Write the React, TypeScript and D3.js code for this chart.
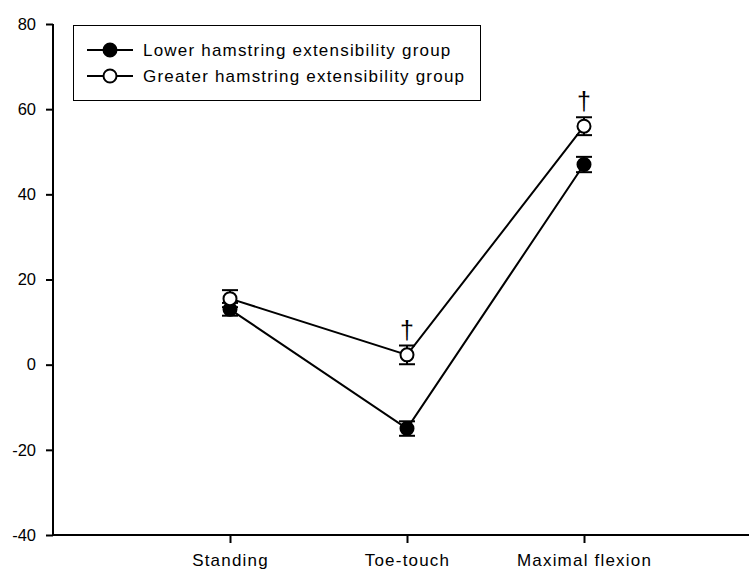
import { useEffect, useRef } from "react";
import * as d3 from "d3";

const phases = ["Standing", "Toe-touch", "Maximal flexion"];
const lowerMeans = [13, -15, 47];
const lowerErr = [1.5, 1.7, 1.8];
const greaterMeans = [15.5, 2.3, 56];
const greaterErr = [2, 2.2, 2.1];
const daggers = [false, true, true];
const yTicks = [-40, -20, 0, 20, 40, 60, 80];
const legendLabels = [
  "Lower hamstring extensibility group",
  "Greater hamstring extensibility group",
];

export default function App() {
  const svgRef = useRef<SVGSVGElement>(null);

  useEffect(() => {
    if (!svgRef.current) return;
    const width = 749;
    const height = 572;
    const font = "Liberation Sans, Arial, sans-serif";

    const svg = d3.select(svgRef.current);
    svg.selectAll("*").remove();

    const x = d3.scaleLinear().domain([0, 4]).range([53, 761]);
    const y = d3.scaleLinear().domain([-40, 80]).range([535, 24]);

    // Axes
    const yAxis = d3
      .axisLeft(y)
      .tickValues(yTicks)
      .tickSize(7)
      .tickPadding(10)
      .tickFormat((d) => `${d}`);
    const gy = svg.append("g").attr("transform", `translate(${x(0)},0)`).call(yAxis);
    gy.select(".domain").attr("stroke-width", 2).attr("d", `M0,${y(80)}V${y(-40)}`);
    gy.selectAll(".tick line").attr("stroke-width", 2);
    gy.selectAll(".tick text")
      .attr("font-family", font)
      .attr("font-size", 16.5)
      .attr("fill", "#000");

    const xAxis = d3
      .axisBottom(x)
      .tickValues([1, 2, 3])
      .tickSize(8)
      .tickPadding(11)
      .tickFormat((d) => phases[(d as number) - 1]);
    const gx = svg.append("g").attr("transform", `translate(0,${y(-40)})`).call(xAxis);
    gx.select(".domain").attr("stroke-width", 2).attr("d", `M${x(0)},0H${width}`);
    gx.selectAll(".tick line").attr("stroke-width", 2);
    gx.selectAll(".tick text")
      .attr("font-family", font)
      .attr("font-size", 17)
      .attr("letter-spacing", 1.2)
      .attr("fill", "#000");

    const line = d3
      .line<number>()
      .x((_, i) => x(i + 1))
      .y((d) => y(d));

    const series = [
      { means: lowerMeans, err: lowerErr, fill: "#000" },
      { means: greaterMeans, err: greaterErr, fill: "#fff" },
    ];

    series.forEach((s) => {
      svg
        .append("path")
        .datum(s.means)
        .attr("fill", "none")
        .attr("stroke", "#000")
        .attr("stroke-width", 2)
        .attr("d", line);
    });

    series.forEach((s) => {
      s.means.forEach((m, i) => {
        const cx = x(i + 1);
        const g = svg.append("g");
        g.append("line")
          .attr("x1", cx)
          .attr("x2", cx)
          .attr("y1", y(m - s.err[i]))
          .attr("y2", y(m + s.err[i]))
          .attr("stroke", "#000")
          .attr("stroke-width", 2);
        [m - s.err[i], m + s.err[i]].forEach((v) => {
          g.append("line")
            .attr("x1", cx - 8)
            .attr("x2", cx + 8)
            .attr("y1", y(v))
            .attr("y2", y(v))
            .attr("stroke", "#000")
            .attr("stroke-width", 2);
        });
        g.append("circle")
          .attr("cx", cx)
          .attr("cy", y(m))
          .attr("r", 6.5)
          .attr("fill", s.fill)
          .attr("stroke", "#000")
          .attr("stroke-width", 2);
      });
    });

    // Significance daggers
    daggers.forEach((d, i) => {
      if (!d) return;
      svg
        .append("text")
        .attr("x", x(i + 1))
        .attr("y", y(greaterMeans[i] + greaterErr[i]) - 7)
        .attr("text-anchor", "middle")
        .attr("font-family", font)
        .attr("font-size", 25)
        .attr("fill", "#000")
        .text("\u2020");
    });

    // Legend
    const legend = svg.append("g");
    legend
      .append("rect")
      .attr("x", 73.5)
      .attr("y", 25.5)
      .attr("width", 407)
      .attr("height", 75)
      .attr("fill", "#fff")
      .attr("stroke", "#000")
      .attr("stroke-width", 1);
    legendLabels.forEach((label, i) => {
      const ly = 50 + i * 26;
      legend
        .append("line")
        .attr("x1", 87)
        .attr("x2", 133)
        .attr("y1", ly)
        .attr("y2", ly)
        .attr("stroke", "#000")
        .attr("stroke-width", 2);
      legend
        .append("circle")
        .attr("cx", 110)
        .attr("cy", ly)
        .attr("r", 6.5)
        .attr("fill", series[i].fill)
        .attr("stroke", "#000")
        .attr("stroke-width", 2);
      legend
        .append("text")
        .attr("x", 143)
        .attr("y", ly + 6)
        .attr("font-family", font)
        .attr("font-size", 17)
        .attr("letter-spacing", 1.2)
        .text(label);
    });

    svg.attr("width", width).attr("height", height);
  }, []);

  return (
    <svg
      ref={svgRef}
      width={749}
      height={572}
      style={{ position: "absolute", left: 0, top: 0, background: "#fff" }}
    />
  );
}
